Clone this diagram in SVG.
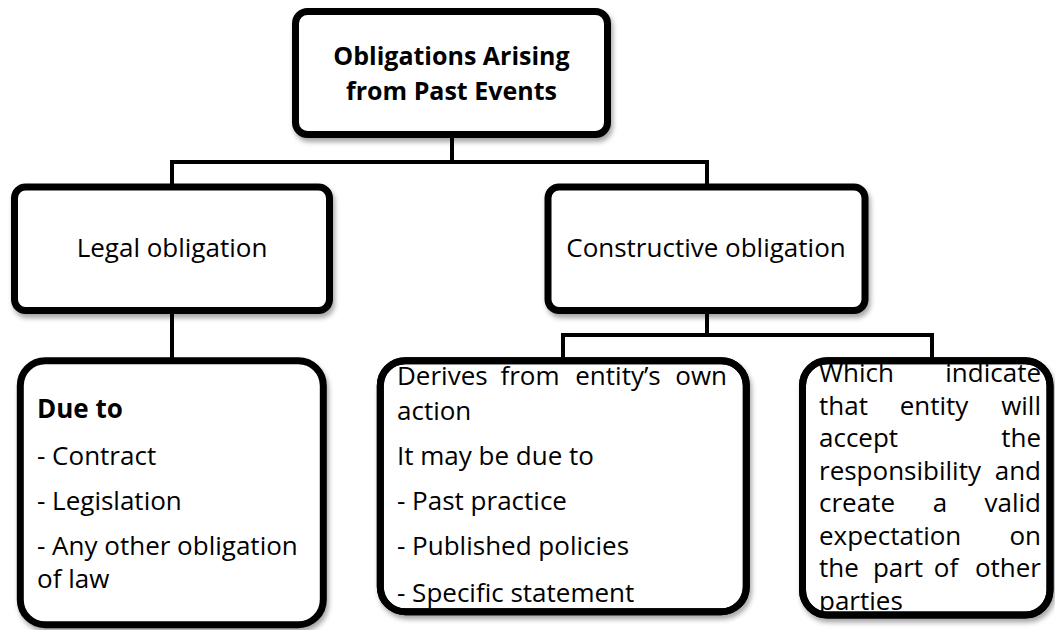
<svg xmlns="http://www.w3.org/2000/svg" width="1055" height="630" viewBox="0 0 1055 630">
<style>
.box{fill:#fff;stroke:#000;stroke-width:7;filter:url(#sh)}
.edge{fill:none;stroke:#000;stroke-width:7}
.t{font-family:"Open Sans","Liberation Sans",sans-serif;font-size:26px;fill:#000}
.b{font-weight:bold;font-size:25px}
.c{text-anchor:middle}
.e{text-anchor:end}
.con{fill:none;stroke:#000;stroke-width:4}
</style>
<defs>
<filter id="sh" x="-10%" y="-10%" width="125%" height="130%">
<feDropShadow dx="2" dy="4" stdDeviation="2.5" flood-color="#000" flood-opacity="0.35"/>
</filter>
</defs>
<rect width="1055" height="630" fill="#fff"/>
<g id="connectors">
<path class="con" d="M452,138 V162"/>
<path class="con" d="M172,185 V162 H707 V185"/>
<path class="con" d="M172,312 V359"/>
<path class="con" d="M707,312 V335"/>
<path class="con" d="M563,359 V335 H932 V359"/>
</g>
<g id="root">
<rect class="box" x="295.5" y="11.5" width="312" height="123" rx="12"/>
<text class="t b c" x="451.5" y="65">Obligations Arising</text>
<text class="t b c" x="451.5" y="100">from Past Events</text>
</g>
<g id="legal">
<rect class="box" x="14.5" y="187" width="315" height="123.5" rx="11"/>
<text class="t c" x="172" y="257">Legal obligation</text>
</g>
<g id="constructive">
<rect class="box" x="548" y="187" width="317" height="123.5" rx="11"/>
<text class="t c" x="706" y="257">Constructive obligation</text>
</g>
<g id="due-to">
<rect class="box" x="20.3" y="360.7" width="303" height="264" rx="25"/>
<text class="t b" style="font-size:26px" x="37" y="418">Due to</text>
<text class="t" x="37" y="465">- Contract</text>
<text class="t" x="37" y="510">- Legislation</text>
<text class="t" x="37" y="555">- Any other obligation</text>
<text class="t" x="37" y="588">of law</text>
</g>
<g id="derives">
<rect class="box" x="380.3" y="360.7" width="366" height="251" rx="25"/>
<text class="t" x="397" y="385">Derives</text>
<text class="t c" x="530" y="385">from</text>
<text class="t c" x="618" y="385">entity’s</text>
<text class="t e" x="727" y="385">own</text>
<text class="t" x="397" y="420">action</text>
<text class="t" x="397" y="465">It may be due to</text>
<text class="t" x="397" y="510">- Past practice</text>
<text class="t" x="397" y="555">- Published policies</text>
<text class="t" x="397" y="601.5">- Specific statement</text>
<rect class="edge" x="380.3" y="360.7" width="366" height="251" rx="25"/>
</g>
<g id="which-indicate">
<rect class="box" x="802.5" y="360.7" width="247.5" height="254.3" rx="25"/>
<text class="t" x="819" y="382">Which</text>
<text class="t e" x="1041" y="382">indicate</text>
<text class="t" x="819" y="414.5">that</text>
<text class="t c" x="934" y="414.5">entity</text>
<text class="t e" x="1041" y="414.5">will</text>
<text class="t" x="819" y="447">accept</text>
<text class="t e" x="1041" y="447">the</text>
<text class="t" x="819" y="479.5">responsibility</text>
<text class="t e" x="1041" y="479.5">and</text>
<text class="t" x="819" y="512">create</text>
<text class="t c" x="940" y="512">a</text>
<text class="t e" x="1041" y="512">valid</text>
<text class="t" x="819" y="544.5">expectation</text>
<text class="t e" x="1041" y="544.5">on</text>
<text class="t" x="819" y="577">the</text>
<text class="t c" x="898" y="577">part</text>
<text class="t c" x="946" y="577">of</text>
<text class="t e" x="1041" y="577">other</text>
<text class="t" x="819" y="609.5">parties</text>
<rect class="edge" x="802.5" y="360.7" width="247.5" height="254.3" rx="25"/>
</g>
</svg>
